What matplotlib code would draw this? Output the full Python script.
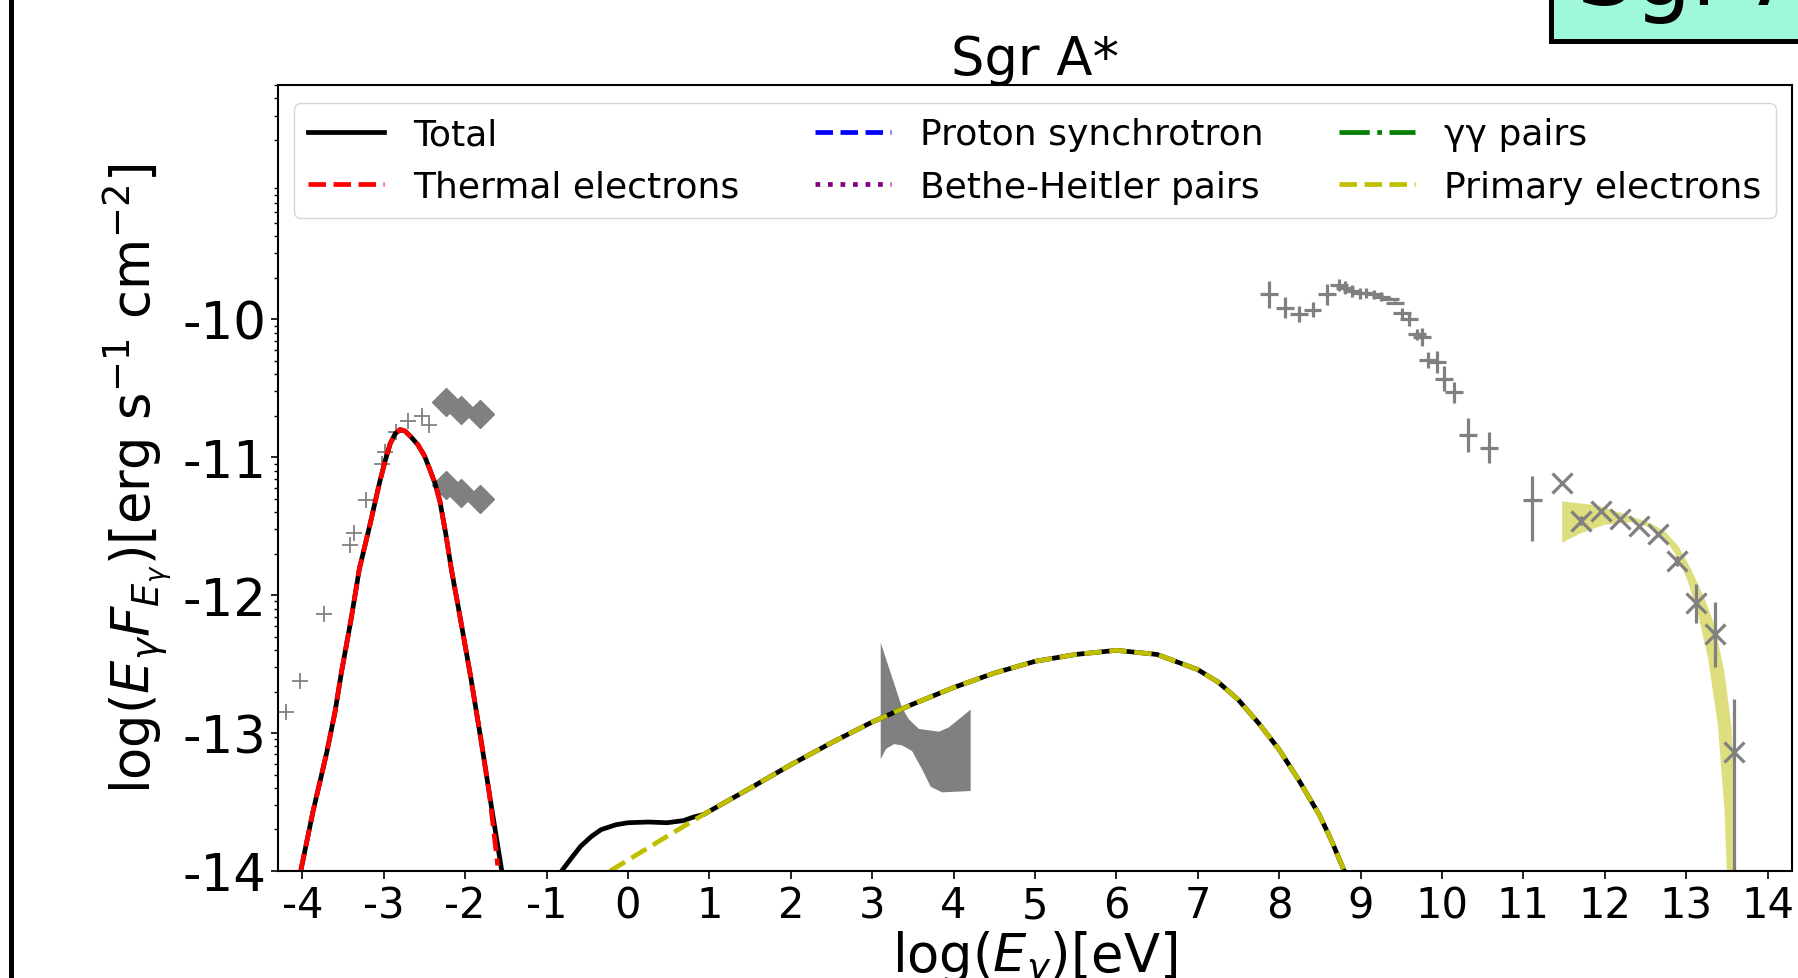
import numpy as np
import matplotlib
matplotlib.use('Agg')
import matplotlib.pyplot as plt
from matplotlib.patches import Rectangle
from matplotlib.lines import Line2D
from matplotlib.ticker import LogLocator, NullFormatter

plt.rcParams['axes.unicode_minus'] = False

# all values are log10(E [eV]) and log10(E F_E [erg s^-1 cm^-2])
thermal_x = [-4.02, -3.87, -3.70, -3.60, -3.52, -3.40, -3.30, -3.17, -3.05, -2.98, -2.92, -2.86,
             -2.80, -2.74, -2.67, -2.58, -2.50, -2.44, -2.37, -2.31, -2.24, -2.17, -2.05, -1.93,
             -1.80, -1.70, -1.60]
thermal_y = [-14.0, -13.57, -13.14, -12.85, -12.56, -12.17, -11.81, -11.49, -11.18, -11.02, -10.90,
             -10.83, -10.80, -10.81, -10.85, -10.91, -10.99, -11.08, -11.19, -11.32, -11.55, -11.81,
             -12.20, -12.60, -13.07, -13.45, -13.96]

primary_x = [-0.22, 0.42, 0.93, 1.5, 2.0, 2.5, 3.0, 3.5, 4.0, 4.5, 5.0, 5.5, 6.0, 6.5, 7.0, 7.25,
             7.5, 7.75, 8.0, 8.25, 8.5, 8.65, 8.8]
primary_y = [-14.0, -13.77, -13.59, -13.40, -13.23, -13.07, -12.92, -12.79, -12.67, -12.565, -12.48,
             -12.43, -12.40, -12.43, -12.54, -12.63, -12.76, -12.93, -13.12, -13.35, -13.60, -13.79, -14.0]

# total = thermal part, gap below the axis, then the low-energy bump joining the primary electrons
total_x = thermal_x[:-1] + [-1.55, np.nan, -0.815, -0.70, -0.58, -0.45, -0.33, -0.15, 0.0, 0.25,
                            0.48, 0.68, 0.80] + primary_x[2:]
total_y = thermal_y[:-1] + [-14.0, np.nan, -14.0, -13.91, -13.82, -13.75, -13.70, -13.665, -13.65,
                            -13.645, -13.65, -13.635, -13.61] + primary_y[2:]

# radio / submm points
radio_x = [-4.195, -4.03, -3.73, -3.42, -3.37, -3.22, -3.02, -2.98, -2.85, -2.70, -2.53, -2.45]
radio_y = [-12.85, -12.62, -12.14, -11.64, -11.55, -11.31, -11.05, -10.96, -10.82, -10.74, -10.70, -10.77]

# infrared (two sets of diamonds)
ir_x = [-2.23, -2.05, -1.82]
ir_hi_y = [-10.60, -10.66, -10.69]
ir_lo_y = [-11.20, -11.26, -11.30]

# X-ray bowtie outline
xray_x = [3.105, 3.37, 3.45, 3.575, 3.82, 3.94, 4.21, 4.21, 3.86, 3.72, 3.62, 3.49, 3.37, 3.27, 3.17, 3.105]
xray_y = [-12.345, -12.82, -12.90, -12.97, -12.99, -12.96, -12.83, -13.42, -13.43, -13.39, -13.27,
          -13.13, -13.09, -13.08, -13.115, -13.19]

# Fermi points
fermi_x = [7.87, 8.07, 8.24, 8.41, 8.585, 8.73, 8.81, 8.89, 8.99, 9.07, 9.16, 9.25, 9.36, 9.42,
           9.505, 9.59, 9.69, 9.76, 9.83, 9.935, 10.02, 10.15, 10.32, 10.58]
fermi_y = [-9.82, -9.915, -9.96, -9.93, -9.82, -9.75, -9.77, -9.795, -9.81, -9.81, -9.82, -9.835,
           -9.85, -9.88, -9.955, -10.0, -10.11, -10.13, -10.295, -10.31, -10.43, -10.53, -10.84, -10.93]
fermi_dy = [0.10, 0.075, 0.058, 0.054, 0.079, 0.045, 0.045, 0.04, 0.04, 0.035, 0.035, 0.03,
            0.01, 0.01, 0.036, 0.048, 0.042, 0.064, 0.058, 0.079, 0.09, 0.075, 0.123, 0.111]
fermi_dx = 0.11

# single point between Fermi and HESS
mid_x = [11.11]
mid_y = [-11.31]
mid_lo = [0.30]
mid_hi = [0.174]

# HESS points
hess_x = [11.48, 11.71, 11.95, 12.185, 12.42, 12.655, 12.89, 13.12, 13.36, 13.585]
hess_y = [-11.19, -11.46, -11.39, -11.445, -11.50, -11.56, -11.755, -12.06, -12.285, -13.14]
hess_lo = [0.0, 0.033, 0.01, 0.01, 0.01, 0.015, 0.036, 0.14, 0.235, 1.5]
hess_hi = [0.0, 0.033, 0.01, 0.01, 0.01, 0.015, 0.036, 0.14, 0.235, 0.39]

# HESS spectral band
band_up_x = [11.477, 11.92, 12.33, 12.57, 12.74, 12.90, 13.06, 13.23, 13.35, 13.47, 13.555, 13.60, 13.615]
band_up_y = [-11.32, -11.35, -11.43, -11.48, -11.54, -11.64, -11.81, -12.03, -12.22, -12.56, -12.945, -13.43, -14.0]
band_lo_x = [11.477, 11.71, 12.00, 12.33, 12.53, 12.74, 12.90, 13.02, 13.15, 13.27, 13.39, 13.47, 13.50]
band_lo_y = [-11.62, -11.55, -11.49, -11.47, -11.505, -11.59, -11.735, -11.90, -12.15, -12.46, -12.945, -13.55, -14.0]

xticks = list(range(-4, 15))
yticks = [-14, -13, -12, -11, -10]


def lin(v):
    return 10.0 ** np.array(v, dtype=float)


def yerr_lin(y, lo, hi):
    y = np.array(y)
    return [lin(y) - lin(y - np.array(lo)), lin(y + np.array(hi)) - lin(y)]


fig = plt.figure(figsize=(17.99, 9.79), dpi=100)
ax = fig.add_axes([0.1545, 0.1093, 0.8416, 0.8029])
ax.set_yscale('log')

grey = '#808080'

ax.fill(band_up_x + band_lo_x[::-1], lin(band_up_y + band_lo_y[::-1]), color='y', alpha=0.5, lw=0)
ax.fill(xray_x, lin(xray_y), color=grey, lw=0)

ax.plot(radio_x, lin(radio_y), '+', color=grey, ms=12, mew=1.3)
ax.plot(ir_x, lin(ir_hi_y), 'D', color=grey, ms=14)
ax.plot(ir_x, lin(ir_lo_y), 'D', color=grey, ms=14)

ax.errorbar(fermi_x, lin(fermi_y), xerr=fermi_dx, yerr=yerr_lin(fermi_y, fermi_dy, fermi_dy),
            fmt='none', ecolor=grey, elinewidth=2.3)
ax.errorbar(mid_x, lin(mid_y), xerr=0.115, yerr=yerr_lin(mid_y, mid_lo, mid_hi),
            fmt='none', ecolor=grey, elinewidth=2.3)
ax.errorbar(hess_x, lin(hess_y), yerr=yerr_lin(hess_y, hess_lo, hess_hi),
            fmt='x', color=grey, ecolor=grey, elinewidth=2.3, ms=14, mew=2.3)

lw = 3.4
ax.plot(total_x, lin(total_y), 'k-', lw=lw, label='Total')
ax.plot(thermal_x, lin(thermal_y), 'r--', lw=lw, label='Thermal electrons')
ax.plot([], [], 'b--', lw=lw, label='Proton synchrotron')
ax.plot([], [], ':', color='purple', lw=lw, label='Bethe-Heitler pairs')
ax.plot([], [], 'g-.', lw=lw, label='γγ pairs')
ax.plot(primary_x, lin(primary_y), 'y--', lw=lw, label='Primary electrons')

ax.set_xlim(-4.3, 14.3)
ax.set_ylim(1e-14, 5e-9)
ax.set_xticks(xticks)
ax.set_xticklabels([str(t) for t in xticks])
ax.set_yticks(lin(yticks))
ax.set_yticklabels([str(t) for t in yticks])
ax.yaxis.set_minor_locator(LogLocator(base=10, subs=np.arange(2, 10), numticks=20))
ax.yaxis.set_minor_formatter(NullFormatter())

ax.tick_params(axis='x', which='major', labelsize=30, length=6, width=1.2)
ax.tick_params(axis='y', which='major', labelsize=37, length=5, width=1.2)
ax.tick_params(axis='y', which='minor', length=3, width=1.0)
for s in ax.spines.values():
    s.set_linewidth(1.5)

ax.set_title('Sgr A*', fontsize=38, pad=8)
ax.set_xlabel(r'log($E_\gamma$)[eV]', fontsize=38, labelpad=2)
ax.set_ylabel(r'log($E_\gamma F_{E_\gamma}$)[erg s$^{-1}$ cm$^{-2}$]', fontsize=38, labelpad=6)

ax.legend(loc='upper center', ncol=3, fontsize=26, columnspacing=2.1, handlelength=2.1)

# slide decorations around the cropped figure
fig.add_artist(Rectangle((0.8624, 0.9566), 0.2, 0.1, transform=fig.transFigure,
                         facecolor='#A0F8DB', edgecolor='black', lw=3.6, clip_on=False))
fig.text(0.8766, 0.9949, 'Sgr A*', fontsize=65, va='baseline')
fig.add_artist(Line2D([0.006, 0.006], [0, 1], transform=fig.transFigure, color='black', lw=3.6))

fig.savefig('out.png', dpi=100)
